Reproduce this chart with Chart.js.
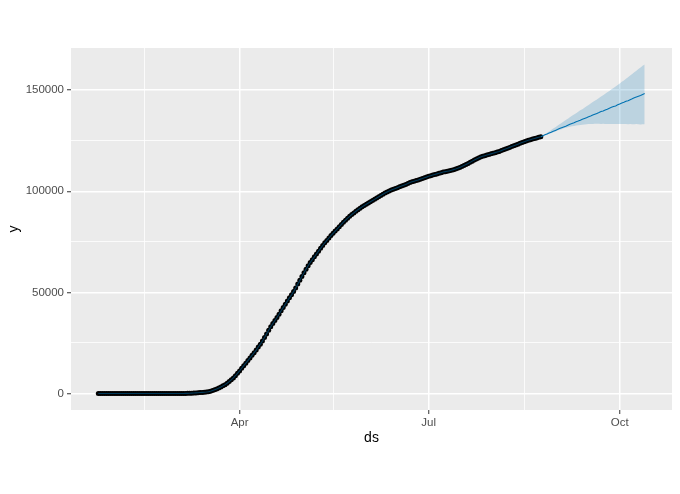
<!DOCTYPE html>
<html>
<head>
<meta charset="utf-8">
<script src="https://cdn.jsdelivr.net/npm/chart.js@4.4.1/dist/chart.umd.min.js"></script>
<style>
  body { margin: 0; background: #fff; }
  canvas { display: block; }
</style>
</head>
<body>
<canvas id="myChart" width="680" height="494"></canvas>
<script>
// observed values, one per day starting at obsStart
const obsStart = '2020-01-24';
const observed = [
    0, 0, 0, 0, 0, 0, 0, 0, 0, 0, 0,
    0, 0, 0, 0, 0, 0, 0, 0, 0, 0, 0,
    0, 0, 0, 0, 0, 0, 0, 0, 0, 0, 0,
    1, 2, 3, 5, 8, 12, 20, 30, 45, 70, 100, 150, 200, 260, 330, 400, 480, 560, 650, 760, 900,
    1100, 1500, 1900, 2300, 2700, 3200, 3800, 4400, 5100, 5900, 6800, 7700, 8800, 10000,
    11200, 12500, 13800, 15000, 16300, 17600, 18900, 20200, 21500, 23000,
    24400, 26000, 27700, 29500, 31300, 33000, 34600, 36100, 37600, 39200,
    40900, 42500, 44100, 45700, 47300, 48800, 50400, 52200, 54100, 56000,
    57900, 59700, 61500, 63200, 64800, 66200, 67600, 69000, 70400, 71800,
    73200, 74500, 75700, 76900, 78100, 79200, 80300, 81400, 82500, 83600,
    84700, 85700, 86700, 87600, 88500, 89300, 90100, 90900, 91600, 92300,
    93000, 93600, 94200, 94800, 95400, 96000, 96700, 97300, 97900, 98500,
    99100, 99600, 100100, 100600, 101000, 101400, 101800, 102200, 102600, 103000,
    103400, 103800, 104300, 104700, 105000, 105300, 105600, 106000, 106300, 106700,
    107000, 107400, 107700, 108000, 108300, 108600, 108900, 109200, 109500, 109700,
    109900, 110100, 110400, 110700, 111000, 111400, 111800, 112200, 112700, 113200,
    113700, 114300, 114900, 115500, 116000, 116500, 116900, 117300, 117600, 117900,
    118200, 118500, 118800, 119100, 119400, 119700, 120100, 120500, 120900, 121300,
    121700, 122100, 122500, 122900, 123300, 123700, 124100, 124500, 124900, 125200,
    125500, 125800, 126100, 126400, 126700, 127000
];

// forecast, one per day after the last observation
const yhat = [
    127400, 127900, 128300, 128800, 129200, 129700, 130100, 130500, 131000, 131400,
    131800, 132200, 132700, 133100, 133500, 133900, 134400, 134700, 135100, 135600,
    136000, 136400, 136800, 137200, 137700, 138100, 138500, 138900, 139400, 139700,
    140200, 140600, 141100, 141500, 141900, 142200, 142800, 143200, 143600, 144000,
    144500, 144800, 145300, 145700, 146200, 146600, 147000, 147400, 147900, 148300
];
const yhatUpper = [
    127600, 128200, 128900, 129600, 130300, 131000, 131700, 132400, 133100, 133800,
    134500, 135200, 135900, 136600, 137300, 137900, 138600, 139300, 140000, 140600,
    141300, 142000, 142700, 143400, 144100, 144800, 145400, 146100, 146800, 147500,
    148200, 148900, 149600, 150400, 151100, 151800, 152600, 153300, 154100, 154800,
    155600, 156400, 157200, 158000, 158800, 159600, 160400, 161200, 162000, 162700
];
const yhatLower = [
    127300, 127700, 128000, 128400, 128800, 129200, 129600, 130000, 130400, 130700,
    131100, 131400, 131700, 131900, 132100, 132300, 132500, 132600, 132800, 132900,
    133000, 133100, 133200, 133300, 133300, 133400, 133400, 133400, 133300, 133400,
    133300, 133300, 133200, 133300, 133300, 133200, 133300, 133200, 133200, 133300,
    133200, 133100, 133200, 133100, 133100, 133200, 133100, 133000, 133100, 133100
];

const xMajorDates = ['2020-04-01', '2020-07-01', '2020-10-01'];
const xMajorLabels = ['Apr', 'Jul', 'Oct'];
const xMinorDates = ['2020-02-15', '2020-05-16', '2020-08-16'];
const yMajorTicks = [0, 50000, 100000, 150000];
const yMinorTicks = [25000, 75000, 125000];

function dayNum(s) {
    return (Date.parse(s + 'T00:00:00Z') - Date.parse('2020-01-01T00:00:00Z')) / 86400000;
}

const d0 = dayNum(obsStart);
const lastDay = d0 + observed.length - 1;
const lastVal = observed[observed.length - 1];

const obsPts = observed.map((v, i) => ({ x: d0 + i, y: v }));
const fitPts = obsPts.concat(yhat.map((v, i) => ({ x: lastDay + 1 + i, y: v })));
const upPts = [{ x: lastDay, y: lastVal }].concat(yhatUpper.map((v, i) => ({ x: lastDay + 1 + i, y: v })));
const loPts = [{ x: lastDay, y: lastVal }].concat(yhatLower.map((v, i) => ({ x: lastDay + 1 + i, y: v })));

// ggplot style 5% expansion
const xLo = d0, xHi = lastDay + yhat.length;
const yLo = Math.min(...observed, ...yhatLower), yHi = Math.max(...yhatUpper);
const xPad = (xHi - xLo) * 0.05, yPad = (yHi - yLo) * 0.05;

const xLabelMap = {};
xMajorDates.forEach((d, i) => { xLabelMap[dayNum(d)] = xMajorLabels[i]; });
const xTickList = xMajorDates.map(d => ({ value: dayNum(d), major: true }))
    .concat(xMinorDates.map(d => ({ value: dayNum(d), major: false })));
const yTickList = yMajorTicks.map(v => ({ value: v, major: true }))
    .concat(yMinorTicks.map(v => ({ value: v, major: false })));

const fontFam = '"Liberation Sans", Arial, sans-serif';

const panelBg = {
    id: 'panelBg',
    beforeDraw(chart) {
        const { ctx, chartArea: a } = chart;
        ctx.save();
        ctx.fillStyle = '#EBEBEB';
        ctx.fillRect(a.left, a.top, a.right - a.left, a.bottom - a.top);
        ctx.restore();
    }
};

const gridOpts = {
    color: '#FFFFFF',
    lineWidth: c => (c.tick && c.tick.major ? 1.5 : 0.8),
    drawTicks: true,
    tickLength: 4,
    tickWidth: 1,
    tickColor: c => (c.tick && c.tick.major ? '#333333' : 'rgba(0,0,0,0)')
};

const ctx = document.getElementById('myChart');
new Chart(ctx, {
    type: 'line',
    data: {
        datasets: [{
            label: 'fit',
            data: fitPts,
            borderColor: '#0072B2',
            borderWidth: 1.1,
            pointRadius: 0,
            fill: false,
            // over the black points the fitted line reads darker
            segment: {
                borderColor: c => (c.p0.parsed.x < lastDay ? 'rgba(0,114,178,0.5)' : undefined)
            },
            order: 0
        }, {
            label: 'upper',
            data: upPts,
            borderWidth: 0,
            pointRadius: 0,
            backgroundColor: 'rgba(0,114,178,0.2)',
            fill: '+1',
            order: 1
        }, {
            label: 'lower',
            data: loPts,
            borderWidth: 0,
            pointRadius: 0,
            fill: false,
            order: 1
        }, {
            label: 'y',
            data: obsPts,
            showLine: false,
            pointRadius: 2.5,
            pointBorderWidth: 0,
            pointBackgroundColor: '#000000',
            order: 2
        }]
    },
    options: {
        responsive: false,
        animation: false,
        layout: { padding: { left: 0, top: 48, right: 8, bottom: 0 } },
        plugins: { legend: { display: false }, tooltip: { enabled: false } },
        scales: {
            x: {
                type: 'linear',
                min: xLo - xPad,
                max: xHi + xPad,
                afterBuildTicks: s => { s.ticks = xTickList.map(t => ({ value: t.value, major: t.major })); },
                afterFit: s => { s.height = 84; },
                border: { display: false },
                grid: gridOpts,
                ticks: {
                    autoSkip: false,
                    maxRotation: 0,
                    padding: 2,
                    color: '#4D4D4D',
                    font: { family: fontFam, size: 11.5 },
                    callback: v => xLabelMap[v] || ''
                },
                title: {
                    display: true,
                    text: 'ds',
                    color: '#000000',
                    font: { family: fontFam, size: 14 },
                    padding: { top: 0, bottom: 47 }
                }
            },
            y: {
                type: 'linear',
                min: yLo - yPad,
                max: yHi + yPad,
                afterBuildTicks: s => { s.ticks = yTickList.map(t => ({ value: t.value, major: t.major })); },
                afterFit: s => { s.width = 71; },
                border: { display: false },
                grid: gridOpts,
                ticks: {
                    autoSkip: false,
                    padding: 3,
                    color: '#4D4D4D',
                    font: { family: fontFam, size: 11.5 },
                    callback: v => (yMajorTicks.indexOf(v) >= 0 ? String(v) : '')
                },
                title: {
                    display: true,
                    text: 'y',
                    color: '#000000',
                    font: { family: fontFam, size: 14 },
                    padding: { top: 6, bottom: 0 }
                }
            }
        }
    },
    plugins: [panelBg]
});
</script>
</body>
</html>
